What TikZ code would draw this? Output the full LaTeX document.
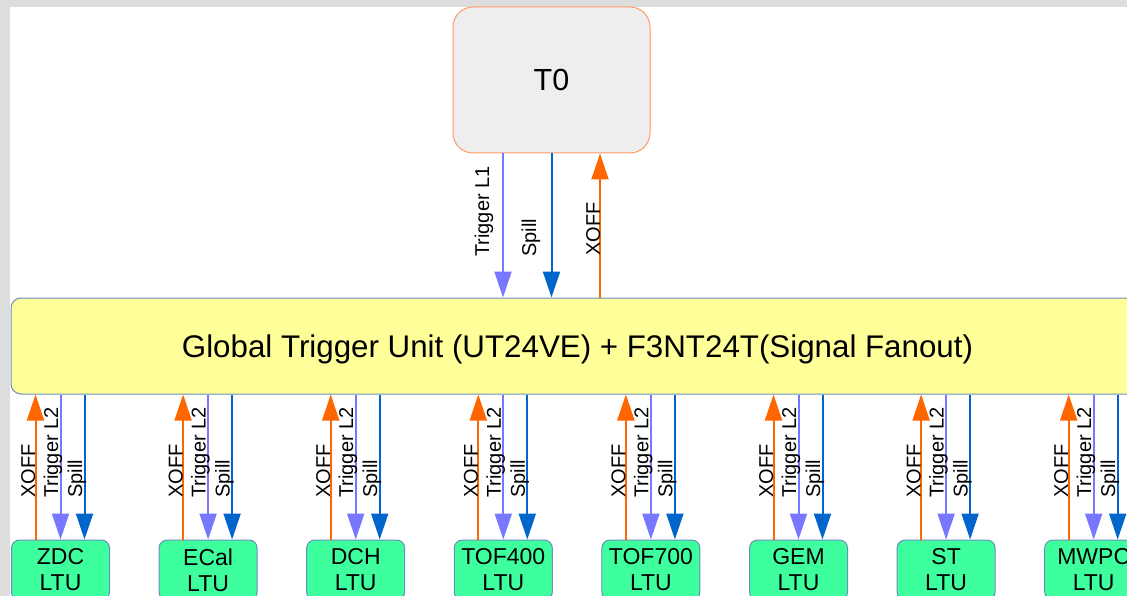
\documentclass[tikz,border=0pt]{standalone}
\usepackage{fontspec}
\setmainfont{Liberation Sans}
\usetikzlibrary{arrows.meta}
\definecolor{framegrey}{HTML}{DDDDDD}
\definecolor{tzerofill}{HTML}{EEEEEE}
\definecolor{tzeroline}{HTML}{FF9966}
\definecolor{gtufill}{HTML}{FFFF99}
\definecolor{boxline}{HTML}{6C8EBF}
\definecolor{ltufill}{HTML}{3DFF9E}
\definecolor{trigcol}{HTML}{7777FF}
\definecolor{spillcol}{HTML}{0066CC}
\definecolor{xoffcol}{HTML}{FF6600}

\begin{document}
\begin{tikzpicture}[x=1pt,y=-1pt,
  sig/.style={line width=2pt, -{Triangle[length=26pt,width=17pt]}},
  trigsig/.style={sig, draw=trigcol},
  spillsig/.style={sig, draw=spillcol},
  xoffsig/.style={sig, draw=xoffcol},
  lbl/.style={rotate=90, anchor=base west, inner sep=0pt, text=black,
    font=\fontsize{20}{24}\selectfont},
  ltu/.style={draw=boxline, line width=1pt, fill=ltufill, rounded corners=8pt,
    minimum width=98pt, minimum height=60pt, inner sep=0pt, align=center,
    font=\fontsize{23}{26}\selectfont},
  bigbox/.style={line width=1pt, inner sep=0pt, font=\fontsize{30.5}{36}\selectfont}
]
\useasboundingbox (0,0) rectangle (1127,596);
\clip (0,0) rectangle (1127,596);
% page frame
\fill[framegrey] (0,0) rectangle (1127,596);
\fill[white] (10,7) rectangle (1127,596);

% main boxes
\node[bigbox, draw=tzeroline, fill=tzerofill, rounded corners=20pt,
      minimum width=197pt, minimum height=146pt] (t0) at (551.5,80) {T0};
\node[bigbox, draw=boxline, fill=gtufill, rounded corners=10pt, text depth=0pt,
      font=\fontsize{31.3}{36}\selectfont,
      minimum width=1133pt, minimum height=96pt] (gtu) at (577.5,346)
      {Global Trigger Unit (UT24VE) + F3NT24T(Signal Fanout)};

% T0 <-> GTU signals
\draw[trigsig]  ([xshift=-48.5pt]t0.south) -- ([xshift=-48.5pt]t0.south |- gtu.north);
\draw[spillsig] (t0.south) -- (t0.south |- gtu.north);
\draw[xoffsig]  ([xshift=48.5pt]t0.south |- gtu.north) -- ([xshift=48.5pt]t0.south);
\node[lbl] (l1lbl) at (489,257) {Trigger L1};
\node[lbl] (spilllbl) at (536,257) {Spill};
\node[lbl] (xofflbl) at (600,256) {XOFF};

% detector LTUs and their signals
\foreach \name/\i in {ZDC/0, ECal/1, DCH/2, TOF400/3, TOF700/4, GEM/5, ST/6, MWPC/7} {
  \pgfmathsetmacro{\cx}{60.5+147.6*\i}
  \node[ltu] (ltu\i) at (\cx,570) {\name\\LTU};
  \draw[xoffsig]  ([xshift=-25pt]ltu\i.north) -- ([xshift=-25pt]ltu\i.north |- gtu.south);
  \draw[trigsig]  (ltu\i.north |- gtu.south) -- (ltu\i.north);
  \draw[spillsig] ([xshift=24pt]ltu\i.north |- gtu.south) -- ([xshift=24pt]ltu\i.north);
  \node[lbl] (xoff\i) at (\cx-25.5,498) {XOFF};
  \node[lbl] (trig\i) at (\cx-2.5,498) {Trigger L2};
  \node[lbl] (spill\i) at (\cx+21.5,498) {Spill};
}
\end{tikzpicture}
\end{document}
